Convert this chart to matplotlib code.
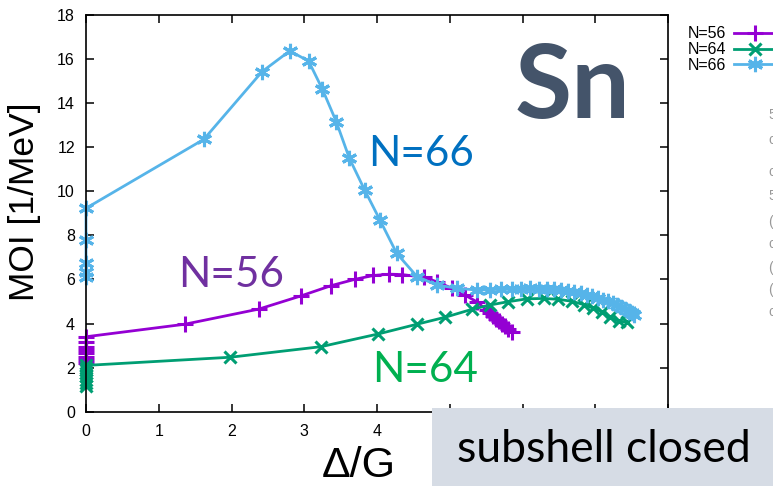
import matplotlib
matplotlib.use("Agg")
import matplotlib.pyplot as plt
from matplotlib.patches import Rectangle

# MOI vs Delta/G along the pairing-strength sweep, Sn isotopes
x56 = [0, 0, 0, 0, 0, 0, 0, 0, 1.36, 2.38, 2.96, 3.37, 3.70, 3.95, 4.17, 4.35,
       4.64, 4.82, 5.03, 5.21, 5.37, 5.51, 5.56, 5.60, 5.64, 5.68, 5.72, 5.76, 5.80, 5.85]
y56 = [2.2, 2.35, 2.5, 2.65, 2.8, 2.95, 3.15, 3.4, 3.97, 4.66, 5.26, 5.72, 6.01, 6.18, 6.24, 6.22,
       6.10, 5.90, 5.60, 5.29, 4.99, 4.61, 4.46, 4.34, 4.22, 4.10, 3.99, 3.88, 3.76, 3.63]

x64 = [0, 0, 0, 0, 0, 0, 0, 0, 1.98, 3.23, 4.02, 4.55, 4.93, 5.31, 5.55, 5.80,
       6.06, 6.29, 6.49, 6.68, 6.84, 6.97, 7.09, 7.20, 7.32, 7.43]
y64 = [1.15, 1.3, 1.45, 1.6, 1.75, 1.9, 2.0, 2.1, 2.47, 2.95, 3.53, 3.97, 4.28, 4.65, 4.84, 4.99,
       5.12, 5.14, 5.10, 5.01, 4.86, 4.70, 4.54, 4.31, 4.10, 4.08]

x66 = [0, 0, 0, 0, 0, 1.62, 2.42, 2.80, 3.06, 3.25, 3.44, 3.62, 3.83, 4.04, 4.27,
       4.55, 4.82, 5.10, 5.37, 5.55, 5.70, 5.85, 5.98, 6.10, 6.22, 6.33, 6.43, 6.53,
       6.62, 6.71, 6.80, 6.88, 6.96, 7.04, 7.11, 7.18, 7.24, 7.30, 7.36, 7.41, 7.46, 7.50, 7.53]
y66 = [6.1, 6.35, 6.75, 7.8, 9.23, 12.36, 15.43, 16.37, 15.91, 14.63, 13.16, 11.50, 10.06, 8.70, 7.19,
       6.13, 5.75, 5.60, 5.52, 5.53, 5.56, 5.58, 5.59, 5.60, 5.59, 5.57, 5.55, 5.52,
       5.48, 5.43, 5.37, 5.31, 5.24, 5.17, 5.09, 5.01, 4.93, 4.84, 4.75, 4.66, 4.57, 4.47, 4.40]

W, H = 773, 486
fig = plt.figure(figsize=(W / 100, H / 100), dpi=100)
ax = fig.add_axes([86 / W, 1 - 411.7 / H, (668 - 86) / W, (411.7 - 15) / H])

lw, mew = 2.0, 2.2
ax.plot(x56, y56, color="#9400d3", marker="+", lw=lw, ms=11, mew=mew, label="N=56", clip_on=False)
ax.plot(x64, y64, color="#009e73", marker="x", lw=lw, ms=9, mew=mew, label="N=64", clip_on=False)
ax.plot(x66, y66, color="#56b4e9", marker=(6, 2, 0), lw=lw, ms=11, mew=mew, label="N=66", clip_on=False)

ax.set_xlim(0, 8)
ax.set_ylim(0, 18)
ax.set_xticks(range(0, 9))
ax.set_xticklabels(["0", "1", "2", "3", "4", "", "", "", ""])
ax.set_yticks(range(0, 19, 2))
for s in ax.spines.values():
    s.set_linewidth(1.2)
ax.tick_params(direction="in", length=6, width=1.1, top=True, right=True,
               labelsize=11.5, pad=8)
for t in ax.get_xticklabels() + ax.get_yticklabels():
    t.set_fontfamily("Liberation Sans")
ax.tick_params(axis="x", pad=9)

fig.text(25 / W, 1 - 202 / H, "MOI [1/MeV]", rotation=90, ha="center", va="center",
         fontsize=25.5, family="Liberation Sans")
fig.text(359 / W, 1 - 485.5 / H, "Δ/G", ha="center", va="bottom",
         fontsize=31, family="Liberation Sans")

leg = ax.legend(loc="upper left", bbox_to_anchor=(673 / W, 1 - 12 / H),
                bbox_transform=fig.transFigure, frameon=False, markerfirst=False,
                handlelength=2.6, handletextpad=0.5, labelspacing=0.05,
                prop={"family": "Liberation Sans", "size": 11.5})

# element symbol and series labels
fig.text(573 / W, 1 - 118 / H, "Sn", ha="center", va="baseline", fontsize=75,
         fontweight="bold", family="Lato", color="#44546a")
fig.text(368 / W, 1 - 166 / H, "N=66", ha="left", va="baseline", fontsize=30.5,
         family="Lato", color="#0070c0")
fig.text(178 / W, 1 - 287 / H, "N=56", ha="left", va="baseline", fontsize=30.5,
         family="Lato", color="#7030a0")
fig.text(372 / W, 1 - 382 / H, "N=64", ha="left", va="baseline", fontsize=30.5,
         family="Lato", color="#00b050")

# grey note box in the lower right corner
fig.patches.append(Rectangle((432 / W, 0), (W - 432) / W, (486 - 408) / H,
                             transform=fig.transFigure, facecolor="#d6dce5",
                             edgecolor="none", zorder=5))
fig.text(604 / W, 1 - 462 / H, "subshell closed", ha="center", va="baseline",
         fontsize=32, family="Lato", color="black", zorder=6)

# fragments of text cut off at the right border
frag_y = [115, 140, 172, 196, 222, 244, 268, 290, 312]
frag_s = ["5", "c", "c", "5", "(", "c", "(", "(", "c"]
for yy, ss in zip(frag_y, frag_s):
    fig.text(768.5 / W, 1 - yy / H, ss, ha="left", va="center", fontsize=10,
             family="Liberation Sans", color="#999999")

fig.savefig("out.png", dpi=100)
